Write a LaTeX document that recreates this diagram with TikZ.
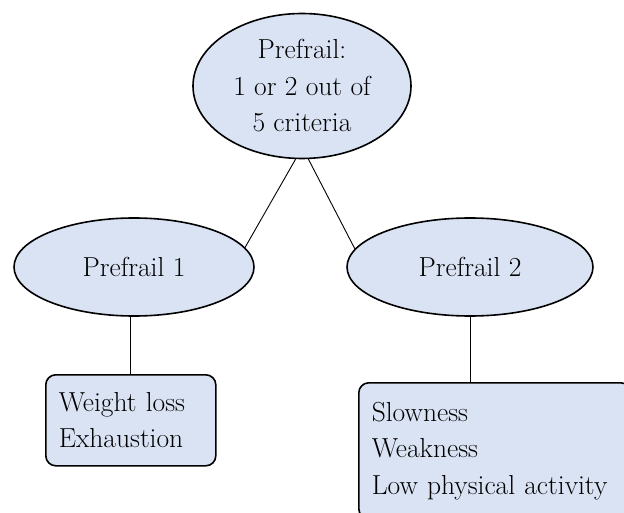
\documentclass[tikz,border=0pt]{standalone}
\usetikzlibrary{shapes.geometric}
\definecolor{critfill}{HTML}{DAE3F3}
\begin{document}
\begin{tikzpicture}[x=1pt,y=-1pt,
    every node/.style={font=\fontsize{27.5}{36.5}\selectfont},
    bubble/.style={ellipse,draw,line width=1.6pt,fill=critfill,inner sep=0pt,align=center},
    listbox/.style={rectangle,draw,line width=1.6pt,fill=critfill,rounded corners=10pt,
      anchor=north west,inner xsep=13pt,inner ysep=0pt,align=left}]
  \useasboundingbox (0,0) rectangle (624,513);
  \clip (0,0) rectangle (624,513);
  \draw
    (302,86) node[bubble,minimum width=218pt,minimum height=145pt] (pre){Prefrail:\\1 or 2 out of\\5 criteria}
    (134,267) node[bubble,minimum width=240pt,minimum height=98pt] (pf1){Prefrail 1}
    (470,267) node[bubble,minimum width=246pt,minimum height=98pt] (pf2){Prefrail 2}
    (45,374) node[listbox,text width=144pt,minimum height=91pt] (list1){Weight loss\\Exhaustion}
    (358,382) node[listbox,text width=246pt,minimum height=136pt] (list2){Slowness\\Weakness\\Low physical activity};
  \begin{scope}[-,line width=0.9pt]
    \draw (pre.265) to (pf1.10);
    \draw (pre.275) to (pf2.171);
    \draw (list1.north) to (list1.north |- pf1.south);
    \draw (pf2.south) to (pf2.south |- list2.north);
  \end{scope}
\end{tikzpicture}
\end{document}
